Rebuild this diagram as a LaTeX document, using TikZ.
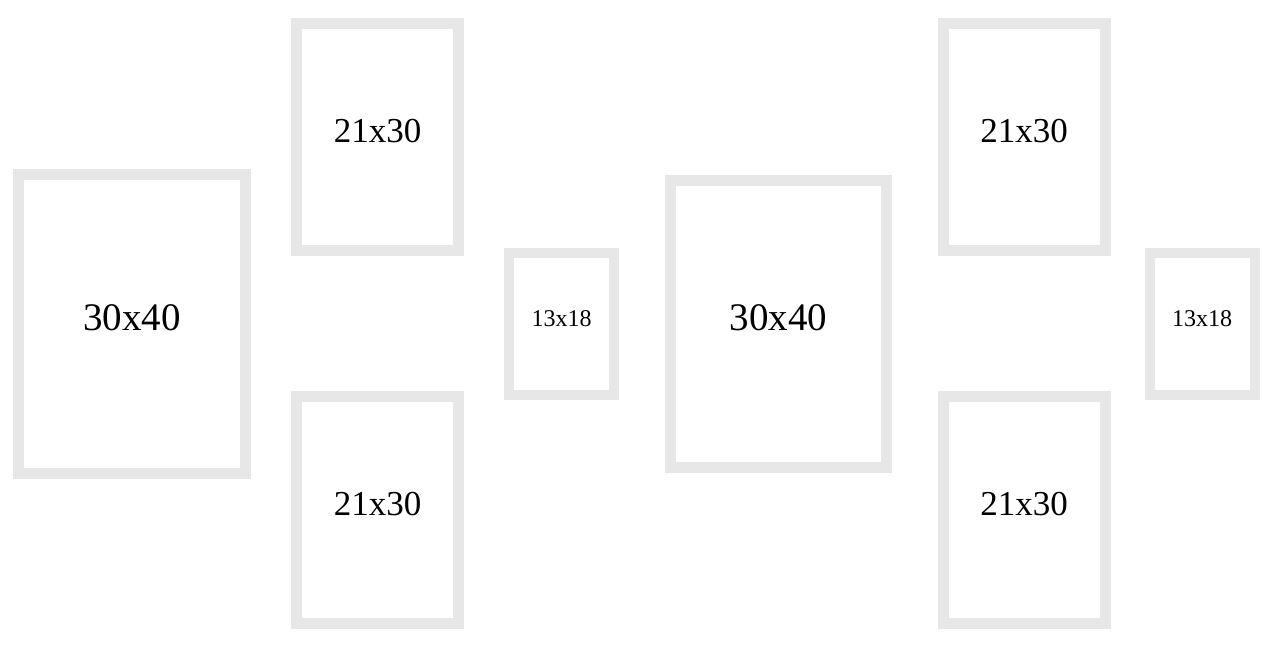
\documentclass[tikz,border=0pt]{standalone}
\usepackage{fontspec}
\setmainfont{Liberation Serif}
\usepackage{tikz}
\definecolor{frameg}{RGB}{231,231,231}

\begin{document}
\begin{tikzpicture}[x=1pt, y=-1pt,
    frame/.style={draw=frameg, fill=white, line width=11pt, inner sep=0pt, outer sep=0pt, text depth=12pt},
    big/.style={frame, minimum width=227pt, minimum height=299pt, font=\fontsize{39}{40}\selectfont},
    mid/.style={frame, minimum width=162pt, minimum height=227pt, font=\fontsize{35}{36}\selectfont},
    small/.style={frame, line width=10pt, minimum width=105pt, minimum height=142pt, text depth=11pt, font=\fontsize{24}{25}\selectfont}]
    \useasboundingbox (0,0) rectangle (1280,648);

    \node[big](b1) at ( 132, 324) {30x40};
    \node[mid](m1) at ( 377.5, 137) {21x30};
    \node[mid](m2) at ( 377.5, 510) {21x30};
    \node[small](s1) at ( 561.5, 324) {13x18};

    \node[big, minimum width=216pt, minimum height=287pt](b2) at ( 778.5, 324) {30x40};
    \node[mid](m3) at (1024, 137) {21x30};
    \node[mid](m4) at (1024, 510) {21x30};
    \node[small](s2) at (1202, 324) {13x18};
  \end{tikzpicture}
\end{document}
